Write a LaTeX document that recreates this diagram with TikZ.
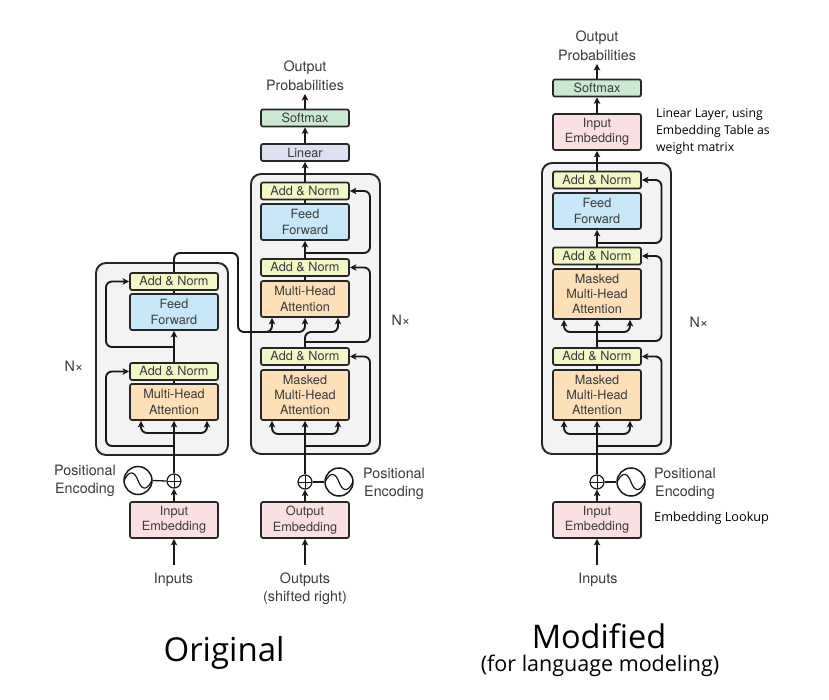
\documentclass[tikz,border=0pt]{standalone}
\usepackage{fontspec}
\setmainfont{TeX Gyre Heros}
\newfontfamily\notefont{Open Sans}
\usepackage{xcolor}
\definecolor{inkgray}{HTML}{3A3A3A}
\definecolor{normfill}{HTML}{F3F7C6}
\definecolor{feedfill}{HTML}{C6E8F8}
\definecolor{attnfill}{HTML}{FDDFB8}
\definecolor{embedfill}{HTML}{FBE0E3}
\definecolor{softfill}{HTML}{CBE8D2}
\definecolor{linearfill}{HTML}{DDE0F1}
\definecolor{stackfill}{HTML}{F3F3F3}
\usetikzlibrary{arrows.meta}
\tikzset{
  blockbox/.style={draw=black!85,line width=1.7pt,rounded corners=2pt,inner sep=0pt,
    minimum width=88pt,align=center,text=inkgray,font=\fontsize{12.7}{15.3}\selectfont},
  normbox/.style={blockbox,fill=normfill,minimum height=17pt},
  softbox/.style={blockbox,fill=softfill,minimum height=17pt},
  linearbox/.style={blockbox,fill=linearfill,minimum height=17pt},
  feedbox/.style={blockbox,fill=feedfill,minimum height=36pt},
  attnbox/.style={blockbox,fill=attnfill,minimum height=36pt},
  maskbox/.style={blockbox,fill=attnfill,minimum height=50pt},
  embedbox/.style={blockbox,fill=embedfill,minimum height=36pt},
  stackbox/.style={draw=black!85,fill=stackfill,line width=1.9pt,rounded corners=10pt},
  flow/.style={-{Stealth[length=6.5pt,width=6.5pt,inset=1.5pt]},line width=1.9pt,draw=black!90,rounded corners=6pt},
  plainflow/.style={line width=1.9pt,draw=black!90,rounded corners=6pt},
  caption/.style={align=center,text=inkgray,inner sep=0pt,font=\fontsize{14.3}{18.5}\selectfont},
  note/.style={align=left,inner sep=0pt,text=black,font=\notefont\fontsize{12.2}{17}\selectfont},
  plusnode/.style={circle,draw=black!90,line width=1.2pt,fill=white,minimum size=14pt,inner sep=0pt,
    path picture={
      \draw[line width=.8pt] (path picture bounding box.north) -- (path picture bounding box.south);
      \draw[line width=.8pt] (path picture bounding box.west) -- (path picture bounding box.east);}},
  wavenode/.style={circle,draw=black!90,line width=1.5pt,fill=white,minimum size=28pt,inner sep=0pt,
    path picture={
      \draw[line width=1.2pt] ([xshift=-14pt]path picture bounding box.center)
        .. controls +(6,-12) and +(-3,-8) .. (path picture bounding box.center)
        .. controls +(3,8) and +(-6,12) .. ([xshift=14pt]path picture bounding box.center);}}
}

\begin{document}
\begin{tikzpicture}[x=1pt,y=-1pt]
    \useasboundingbox (0,0) rectangle (829,700);
    %
    \node[stackbox,minimum width=132pt,minimum height=192pt] (encstack) at (162,359) {};
    \node[stackbox,minimum width=129pt,minimum height=280pt] (decstack) at (315.5,314) {};
    \node[stackbox,minimum width=129pt,minimum height=291pt] (modstack) at (606.5,308.5) {};
    %
    % encoder
    \node[normbox] (encnormb) at (174,281.5) {Add \& Norm};
    \node[feedbox] (encfeed) at (174,312) {Feed\\Forward};
    \node[normbox] (encnorma) at (174,371.5) {Add \& Norm};
    \node[attnbox] (encattn) at (174,402) {Multi-Head\\Attention};
    \node[embedbox] (encembed) at (174,520) {Input\\Embedding};
    \node[plusnode] (encplus) at (174,481) {};
    \node[wavenode] (encwave) at (138,480.5) {};
    \node[caption,anchor=east] (encpos) at (116,481) {Positional\\Encoding};
    \node[caption] (enclabel) at (173.5,579.5) {Inputs};
    \node[caption] (encn) at (74,366) {N×};
    %
    % decoder
    \node[caption] (decprob) at (305,76) {Output\\Probabilities};
    \node[softbox] (decsoft) at (305,118) {Softmax};
    \node[linearbox] (declinear) at (305,152.5) {Linear};
    \node[normbox] (decnormc) at (305,191) {Add \& Norm};
    \node[feedbox] (decfeed) at (305,222) {Feed\\Forward};
    \node[normbox] (decnormb) at (305,267.5) {Add \& Norm};
    \node[attnbox] (decattn) at (305,299) {Multi-Head\\Attention};
    \node[normbox] (decnorma) at (305,356.5) {Add \& Norm};
    \node[maskbox] (decmask) at (305,395) {Masked\\Multi-Head\\Attention};
    \node[embedbox] (decembed) at (305,520) {Output\\Embedding};
    \node[plusnode] (decplus) at (305,482) {};
    \node[wavenode] (decwave) at (339,482) {};
    \node[caption,anchor=west] (decpos) at (363,484) {Positional\\Encoding};
    \node[caption] (declabel) at (305,588.5) {Outputs\\(shifted right)};
    \node[caption] (decn) at (401,320) {N×};
    %
    % modified
    \node[caption] (modprob) at (597,46) {Output\\Probabilities};
    \node[softbox] (modsoft) at (597,88) {Softmax};
    \node[embedbox] (modtop) at (597,132) {Input\\Embedding};
    \node[normbox] (modnormc) at (597,180) {Add \& Norm};
    \node[feedbox] (modfeed) at (597,211) {Feed\\Forward};
    \node[normbox] (modnormb) at (597,256) {Add \& Norm};
    \node[maskbox] (modmaskb) at (597,294) {Masked\\Multi-Head\\Attention};
    \node[normbox] (modnorma) at (597,356.5) {Add \& Norm};
    \node[maskbox] (modmaska) at (597,395) {Masked\\Multi-Head\\Attention};
    \node[embedbox] (modembed) at (597,520) {Input\\Embedding};
    \node[plusnode] (modplus) at (597,482) {};
    \node[wavenode] (modwave) at (631,482) {};
    \node[caption,anchor=west] (modpos) at (654,484) {Positional\\Encoding};
    \node[caption] (modlabel) at (598,579.5) {Inputs};
    \node[caption] (modn) at (699,322) {N×};
    \node[note,anchor=west] (modlinear) at (656,131) {Linear Layer, using\\Embedding Table as\\weight matrix};
    \node[note,anchor=west,font=\notefont\fontsize{12.7}{17}\selectfont] (modlookup) at (654,518.5) {Embedding Lookup};
    %
    \node[inner sep=0pt,font=\notefont\fontsize{33}{36}\selectfont] (origtitle) at (224,653) {Original};
    \node[inner sep=0pt,font=\notefont\fontsize{32.5}{36}\selectfont] (modtitle) at (599,636) {Modified};
    \node[inner sep=0pt,font=\notefont\fontsize{21.5}{24}\selectfont] (modsub) at (600,666) {(for language modeling)};
    %
    \coordinate (encbelow) at (174,565);
    \coordinate (encskipa) at (174,446);
    \coordinate (encforka) at (174,433);
    \coordinate (encskipb) at (174,347);
    \coordinate (crosstop) at (238,253);
    \coordinate (crossrun) at (262,332);
    \coordinate (decfork) at (305,332);
    \coordinate (decbelow) at (305,565);
    \coordinate (decskipa) at (305,446);
    \coordinate (decforka) at (305,434);
    \coordinate (decskipb) at (305,342);
    \coordinate (decskipc) at (305,253);
    \coordinate (decup) at (305,94);
    \coordinate (modbelow) at (597,565);
    \coordinate (modskipa) at (597,446);
    \coordinate (modforka) at (597,434);
    \coordinate (modskipb) at (597,341);
    \coordinate (modforkb) at (597,332);
    \coordinate (modskipc) at (597,243);
    \coordinate (modup) at (597,64);
    %
    % encoder connectors
    \draw[flow] (encbelow) -- (encembed.south);
    \draw[flow] (encembed.north) -- (encplus.south);
    \draw[plainflow,line width=1.3pt] (encwave.east) -- (encplus.west);
    \draw[flow] (encplus.north) -- (encattn.south);
    \draw[flow] (encforka) -| ([xshift=-33pt]encattn.south);
    \draw[flow] (encforka) -| ([xshift=33pt]encattn.south);
    \draw[flow] (encskipa) -- ++(-68,0) |- (encnorma.west);
    \draw[plainflow] (encattn.north) -- (encnorma.south);
    \draw[flow] (encnorma.north) -- (encfeed.south);
    \draw[flow] (encskipb) -- ++(-68,0) |- (encnormb.west);
    \draw[plainflow] (encfeed.north) -- (encnormb.south);
    \draw[plainflow] (encnormb.north) |- (crosstop) |- (crossrun);
    \draw[flow] (crossrun) -| (decattn.south);
    \draw[flow] (crossrun) -| ([xshift=-33pt]decattn.south);
    %
    % decoder connectors
    \draw[flow] (decbelow) -- (decembed.south);
    \draw[flow] (decembed.north) -- (decplus.south);
    \draw[plainflow,line width=1.3pt] (decwave.west) -- (decplus.east);
    \draw[flow] (decplus.north) -- (decmask.south);
    \draw[flow] (decforka) -| ([xshift=-33pt]decmask.south);
    \draw[flow] (decforka) -| ([xshift=33pt]decmask.south);
    \draw[flow] (decskipa) -- ++(65,0) |- (decnorma.east);
    \draw[plainflow] (decmask.north) -- (decnorma.south);
    \draw[plainflow] (decnorma.north) -- (decskipb);
    \draw[flow] (decskipb) -- (decfork) -| ([xshift=33pt]decattn.south);
    \draw[flow] (decskipb) -- ++(65,0) |- (decnormb.east);
    \draw[plainflow] (decattn.north) -- (decnormb.south);
    \draw[flow] (decnormb.north) -- (decfeed.south);
    \draw[flow] (decskipc) -- ++(65,0) |- (decnormc.east);
    \draw[plainflow] (decfeed.north) -- (decnormc.south);
    \draw[flow] (decnormc.north) -- (declinear.south);
    \draw[flow] (declinear.north) -- (decsoft.south);
    \draw[flow] (decsoft.north) -- (decup);
    %
    % modified connectors
    \draw[flow] (modbelow) -- (modembed.south);
    \draw[flow] (modembed.north) -- (modplus.south);
    \draw[plainflow,line width=1.3pt] (modwave.west) -- (modplus.east);
    \draw[flow] (modplus.north) -- (modmaska.south);
    \draw[flow] (modforka) -| ([xshift=-33pt]modmaska.south);
    \draw[flow] (modforka) -| ([xshift=33pt]modmaska.south);
    \draw[flow] (modskipa) -- ++(64.5,0) |- (modnorma.east);
    \draw[plainflow] (modmaska.north) -- (modnorma.south);
    \draw[flow] (modnorma.north) -- (modmaskb.south);
    \draw[flow] (modforkb) -| ([xshift=-33pt]modmaskb.south);
    \draw[flow] (modforkb) -| ([xshift=33pt]modmaskb.south);
    \draw[flow] (modskipb) -- ++(64.5,0) |- (modnormb.east);
    \draw[plainflow] (modmaskb.north) -- (modnormb.south);
    \draw[flow] (modnormb.north) -- (modfeed.south);
    \draw[flow] (modskipc) -- ++(64.5,0) |- (modnormc.east);
    \draw[plainflow] (modfeed.north) -- (modnormc.south);
    \draw[flow] (modnormc.north) -- (modtop.south);
    \draw[flow] (modtop.north) -- (modsoft.south);
    \draw[flow] (modsoft.north) -- (modup);
\end{tikzpicture}
\end{document}
